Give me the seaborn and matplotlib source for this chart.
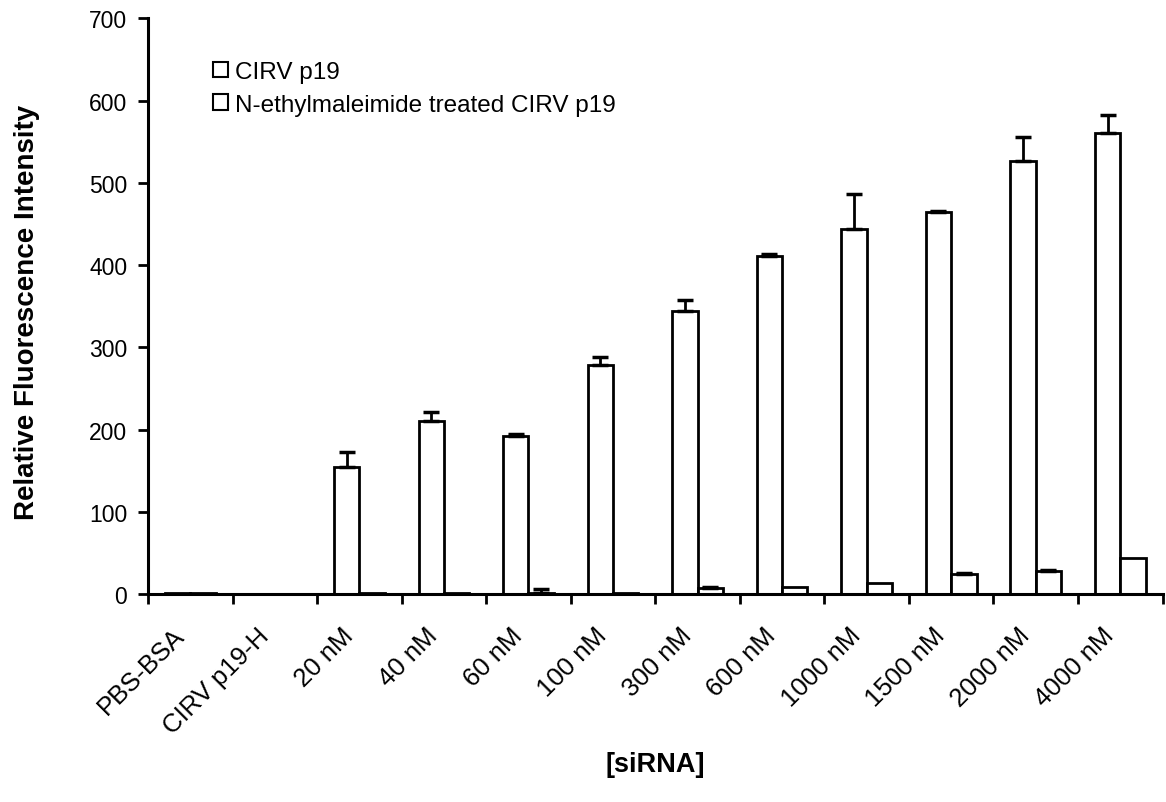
import numpy as np
import pandas as pd
import matplotlib
matplotlib.use("Agg")
import matplotlib.pyplot as plt
import matplotlib.transforms as mtransforms
import seaborn as sns
from matplotlib.patches import Patch
from matplotlib.ticker import FixedLocator

categories = ["PBS-BSA", "CIRV p19-H", "20 nM", "40 nM", "60 nM", "100 nM",
              "300 nM", "600 nM", "1000 nM", "1500 nM", "2000 nM", "4000 nM"]
series_names = ["CIRV p19", "N-ethylmaleimide treated CIRV p19"]
p19_values = [1.0, 0.5, 155, 210, 192, 279, 344, 411, 444, 465, 527, 560]
p19_errors = [0, 0, 18, 11, 2, 9, 14, 2, 42, 1, 29, 22]
nem_values = [1.0, 0.5, 1.5, 1.5, 1.0, 1.5, 7, 8, 13, 24, 28, 44]
nem_errors = [0, 0, 0, 0, 5, 0, 2, 0, 0, 1, 1, 0]

sns.set_style("white")
plt.rcParams["font.family"] = ["Liberation Sans", "DejaVu Sans"]
plt.rcParams["text.color"] = "black"
plt.rcParams["xtick.color"] = "black"
plt.rcParams["ytick.color"] = "black"
plt.rcParams["axes.labelcolor"] = "black"

df = pd.DataFrame({
    "cat": categories * 2,
    "val": p19_values + nem_values,
    "series": [series_names[0]] * len(categories) + [series_names[1]] * len(categories),
})

fig = plt.figure(figsize=(11.66, 8.03), dpi=100)
ax = fig.add_axes([0.127, 0.259, 0.870, 0.717])

sns.barplot(data=df, x="cat", y="val", hue="series", order=categories,
            hue_order=series_names, palette=["white", "white"], width=0.6,
            edgecolor="black", linewidth=2.0, errorbar=None, ax=ax, legend=False)

for cont, errs in zip(ax.containers, [p19_errors, nem_errors]):
    xs = [p.get_x() + p.get_width() / 2 for p in cont]
    hs = [p.get_height() for p in cont]
    for x, h, e in zip(xs, hs, errs):
        if e > 0:
            ax.errorbar([x], [h], yerr=[[0], [e]], fmt="none", ecolor="black",
                        elinewidth=2.0, capsize=6, capthick=2.5, zorder=3)

ax.set_ylim(0, 700)
ax.set_xlim(-0.5, len(categories) - 0.5)
ax.set_yticks(np.arange(0, 701, 100))
ax.tick_params(axis="y", labelsize=16.5, length=7, width=2, direction="out", left=True, pad=8)
ax.set_xticks(range(len(categories)))
ax.set_xticklabels(categories, rotation=45, ha="right", va="center",
                   rotation_mode="anchor", fontsize=18.5)
ax.tick_params(axis="x", which="major", length=0, pad=27)
ax.xaxis.set_minor_locator(FixedLocator(np.arange(-0.5, len(categories), 1.0)))
ax.tick_params(axis="x", which="minor", length=7, width=2, direction="out", bottom=True)
offset = mtransforms.ScaledTranslation(-0.10, 0, fig.dpi_scale_trans)
for lbl in ax.get_xticklabels():
    lbl.set_transform(lbl.get_transform() + offset)

for s in ["top", "right"]:
    ax.spines[s].set_visible(False)
for s in ["left", "bottom"]:
    ax.spines[s].set_linewidth(2.2)
    ax.spines[s].set_color("black")

ax.set_ylabel("Relative Fluorescence Intensity", fontsize=20, fontweight="bold")
ax.yaxis.set_label_coords(-0.107, 0.49)
ax.set_xlabel("[siRNA]", fontsize=19.5, fontweight="bold")
ax.xaxis.set_label_coords(0.5, -0.272)

handles = [Patch(facecolor="white", edgecolor="black", linewidth=1.5, label=n) for n in series_names]
ax.legend(handles=handles, loc="upper left", bbox_to_anchor=(0.1827, 0.923),
          bbox_transform=fig.transFigure, frameon=False, borderpad=0, borderaxespad=0,
          fontsize=17.5, handlelength=0.6, handleheight=0.6, handletextpad=0.3,
          labelspacing=0.45)

fig.savefig("out.png", dpi=100)
